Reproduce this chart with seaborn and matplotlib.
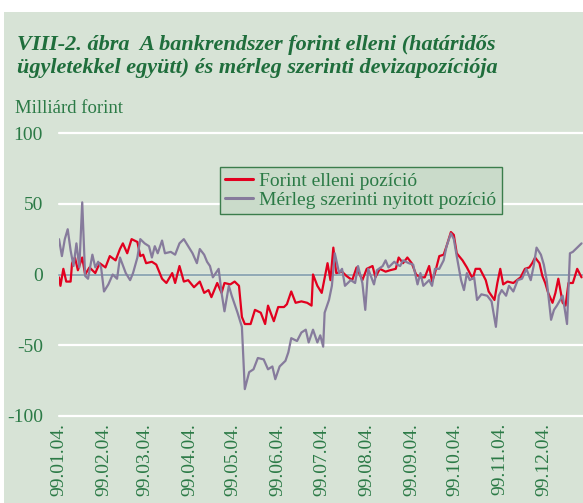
import seaborn as sns
import matplotlib.pyplot as plt
import matplotlib.dates as mdates
import numpy as np, pandas as pd

# Forint elleni pozíció (days counted from 1999-01-04, billion HUF)
red_days = [0, 1, 3, 5, 8, 9, 11, 13, 16, 18, 21, 25, 28, 32, 35, 39, 42, 44, 47, 50,
            54, 56, 58, 60, 64, 67, 71, 74, 78, 80, 83, 86, 89, 93, 97, 100, 103, 105, 109, 112,
            114, 118, 121, 124, 126, 128, 132, 135, 139, 142, 144, 148, 151, 155, 157, 160, 163, 167, 171, 174,
            175, 178, 181, 185, 187, 189, 191, 195, 198, 202, 205, 209, 212, 216, 218, 221, 225, 228, 232, 234,
            237, 240, 243, 246, 249, 252, 255, 257, 259, 262, 265, 267, 270, 272, 274, 278, 281, 285, 287, 290,
            294, 296, 300, 302, 304, 306, 309, 313, 318, 321, 324, 326, 328, 331, 333, 335, 337, 340, 342, 344,
            347, 349, 351, 354, 357, 360]
red_vals = [-2, -8, 4, -5, -5, 8, 12, 3, 12, 0, 5, 1, 8, 5, 13, 10, 18, 22, 15, 25,
            23, 13, 14, 8, 9, 7, -3, -6, 1, -6, 6, -5, -4, -9, -5, -13, -11, -16, -6, -13,
            -6, -7, -5, -8, -30, -35, -35, -25, -27, -35, -22, -33, -23, -23, -21, -12, -20, -19, -20, -22,
            0, -8, -13, 8, -4, 19, 1, 2, -1, -4, 5, -4, 4, 6, -2, 4, 2, 3, 4, 12,
            8, 12, 8, 0, -2, -2, 6, -5, 1, 13, 14, 20, 30, 28, 15, 10, 5, -3, 4, 4,
            -4, -12, -18, -6, 4, -7, -5, -6, -2, 4, 5, 8, 12, 8, -1, -6, -13, -20, -13, -3,
            -20, -22, -6, -6, 4, -2]

# Mérleg szerinti nyitott pozíció
gray_days = [0, 2, 4, 6, 8, 10, 12, 14, 16, 18, 20, 23, 25, 27, 29, 31, 34, 37, 40, 42,
             46, 49, 51, 54, 56, 59, 62, 64, 66, 68, 71, 73, 77, 80, 83, 86, 89, 92, 95, 97,
             100, 102, 104, 106, 110, 112, 114, 117, 119, 123, 126, 128, 131, 134, 137, 141, 144, 147, 149, 152,
             156, 158, 160, 164, 167, 170, 172, 175, 178, 180, 182, 183, 186, 188, 190, 193, 195, 197, 201, 204,
             206, 209, 211, 213, 217, 219, 223, 225, 227, 231, 233, 235, 237, 241, 244, 247, 249, 251, 255, 257,
             259, 262, 265, 267, 270, 272, 274, 277, 279, 281, 283, 286, 288, 291, 295, 298, 301, 303, 305, 308,
             310, 313, 316, 319, 322, 325, 327, 329, 332, 334, 336, 339, 341, 343, 347, 350, 352, 354, 358, 360]
gray_vals = [25, 13, 25, 32, 17, 6, 22, 5, 51, -1, -3, 14, 5, 9, 5, -12, -7, 0, -3, 12,
             1, -4, 1, 12, 25, 22, 20, 12, 20, 15, 24, 15, 16, 14, 22, 25, 20, 15, 8, 18,
             14, 9, 6, -2, 4, -13, -26, -8, -15, -27, -37, -81, -69, -67, -59, -60, -67, -65, -74, -65,
             -61, -55, -45, -47, -41, -39, -48, -39, -48, -43, -51, -27, -18, -8, 15, 1, 4, -8, -4, -6,
             6, -6, -25, 4, -7, 3, 6, 10, 5, 9, 7, 6, 10, 8, 7, -7, 1, -8, -4, -8,
             4, 4, 10, 20, 29, 25, 13, -4, -11, 1, -4, -2, -18, -14, -15, -19, -37, -15, -11, -15,
             -8, -12, -4, -3, 4, -4, 6, 19, 14, 7, -4, -32, -25, -22, -15, -35, 15, 16, 20, 22]

series_names = ["Forint elleni pozíció", "Mérleg szerinti nyitott pozíció"]
tick_dates = ["1999-%02d-04" % m for m in range(1, 13)]
tick_labels = ["99.%02d.04." % m for m in range(1, 13)]
y_ticks = [-100, -50, 0, 50, 100]
y_labels = ["-100", "-50", "0", "50", "100"]

start = pd.Timestamp("1999-01-04")
frame = pd.concat([
    pd.DataFrame({"date": start + pd.to_timedelta(red_days, "D"), "value": red_vals, "series": series_names[0]}),
    pd.DataFrame({"date": start + pd.to_timedelta(gray_days, "D"), "value": gray_vals, "series": series_names[1]}),
])

BG = "#d7e3d6"
GREEN = "#1f6e3c"
TXT = "#2b7a46"
AXIS = "#7d9aa8"

sns.set_style("white")
plt.rcParams["font.family"] = ["Liberation Serif", "DejaVu Serif"]

fig = plt.figure(figsize=(5.83, 5.03), dpi=100)
fig.patches.append(plt.Rectangle((4 / 583, 0), 1, 1 - 12 / 503, transform=fig.transFigure,
                                 facecolor=BG, edgecolor="none", zorder=-10))
ax = fig.add_axes([59 / 583, 87 / 503, 524 / 583, 283 / 503])
ax.set_facecolor("none")

sns.lineplot(data=frame, x="date", y="value", hue="series", palette=["#e2001f", "#867b9c"],
             estimator=None, sort=False, linewidth=1.6, ax=ax)

ax.set_xlim(start, pd.Timestamp("1999-12-31"))
ax.set_ylim(-100, 100)
ax.set_xlabel("")
ax.set_ylabel("")

for s in ["top", "left", "right"]:
    ax.spines[s].set_visible(False)
ax.spines["bottom"].set_position(("data", 0))
ax.spines["bottom"].set_color(AXIS)
ax.spines["bottom"].set_linewidth(1.2)
ax.spines["bottom"].set_zorder(1)

ticks = mdates.date2num(pd.to_datetime(tick_dates))
ax.set_xticks(ticks)
ax.tick_params(axis="x", direction="in", length=5, width=1, color=AXIS, labelbottom=False)

ax.set_yticks(y_ticks, labels=y_labels)
ax.tick_params(axis="y", length=0, pad=11.5, labelsize=14, labelcolor=TXT)
ax.set_axisbelow(True)
ax.yaxis.grid(True, color="white", linewidth=1.6)
for gl in ax.get_ygridlines():
    gl.set_clip_on(False)

sec = ax.secondary_xaxis("bottom")
sec.set_xticks(ticks, labels=tick_labels)
sec.tick_params(length=0, pad=5, labelsize=14, labelcolor=TXT, labelrotation=90)
for lbl in sec.get_xticklabels():
    lbl.set_va("top")
for s in sec.spines.values():
    s.set_visible(False)

leg = ax.legend(loc="upper left", bbox_to_anchor=(0.307, 0.88), borderaxespad=0,
                frameon=True, fancybox=False, fontsize=14, handlelength=1.4,
                handletextpad=0.35, labelspacing=0.05, borderpad=0.28)
leg.get_frame().set_facecolor("#cadbca")
leg.get_frame().set_edgecolor("#3b7d4c")
leg.get_frame().set_linewidth(1.0)
leg.get_frame().set_alpha(1)
for t in leg.get_texts():
    t.set_color(TXT)
for h in leg.get_lines():
    h.set_linewidth(2.2)

fig.text(17 / 583, 1 - 50 / 503, "VIII-2. ábra  A bankrendszer forint elleni (határidős",
         fontsize=16, fontweight="bold", fontstyle="italic", color=GREEN, va="baseline")
fig.text(17 / 583, 1 - 73 / 503, "ügyletekkel együtt) és mérleg szerinti devizapozíciója",
         fontsize=16, fontweight="bold", fontstyle="italic", color=GREEN, va="baseline")
fig.text(15 / 583, 1 - 113 / 503, "Milliárd forint", fontsize=13.5, color=TXT, va="baseline")

fig.savefig("out.png", dpi=100)
